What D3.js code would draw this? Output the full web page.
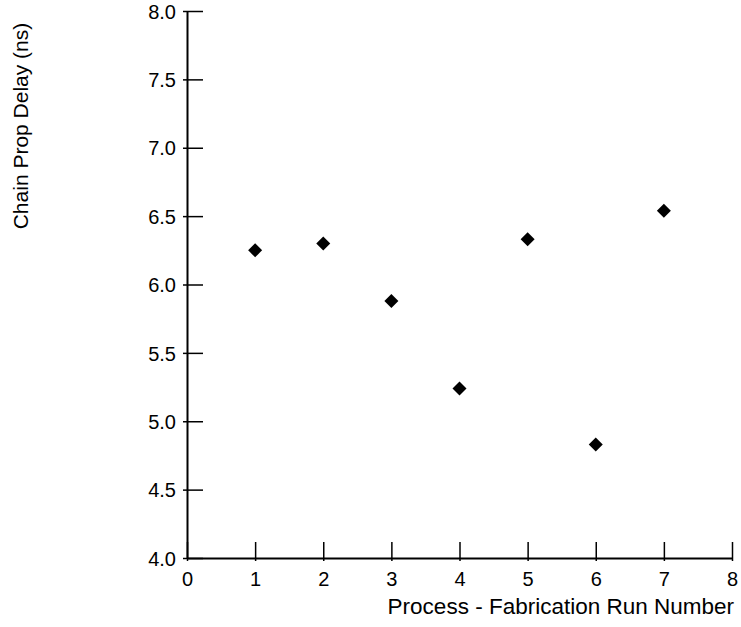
<!DOCTYPE html>
<html>
<head>
<meta charset="utf-8">
<script src="https://cdn.jsdelivr.net/npm/d3@7"></script>
<style>
  body { margin: 0; background: #fff; }
  svg { display: block; font-family: "Liberation Sans", Arial, sans-serif; }
</style>
</head>
<body>
<div id="chart"></div>
<script>
// run number vs measured chain propagation delay
const runs = [1, 2, 3, 4, 5, 6, 7];
const delays = [6.25, 6.30, 5.88, 5.24, 6.33, 4.83, 6.54];
const xTicks = [0, 1, 2, 3, 4, 5, 6, 7, 8];
const yTicks = [4.0, 4.5, 5.0, 5.5, 6.0, 6.5, 7.0, 7.5, 8.0];

const width = 741, height = 627;
const margin = { top: 11, right: 9, bottom: 69, left: 187 };

const svg = d3.select('#chart').append('svg')
  .attr('width', width).attr('height', height);

const x = d3.scaleLinear().domain([0, 8]).range([margin.left, width - margin.right]);
const y = d3.scaleLinear().domain([4, 8]).range([height - margin.bottom, margin.top]);

// y axis — ticks poke a little outside, mostly inside
const yAxis = svg.append('g').attr('transform', `translate(${margin.left},0)`)
  .call(d3.axisLeft(y).tickValues(yTicks).tickFormat(d3.format('.1f'))
    .tickSizeInner(-16).tickSizeOuter(0).tickPadding(0));
yAxis.select('.domain').attr('stroke', '#000').attr('stroke-width', 2);
yAxis.selectAll('.tick line').attr('x1', -4).attr('x2', 16)
  .attr('stroke', '#000').attr('stroke-width', 1.5);
yAxis.selectAll('.tick text').attr('x', -11).attr('dy', '0.36em')
  .attr('font-size', 20).attr('fill', '#000').attr('font-family', null);

const xAxis = svg.append('g').attr('transform', `translate(0,${y(4)})`)
  .call(d3.axisBottom(x).tickValues(xTicks).tickFormat(d3.format('d'))
    .tickSizeInner(0).tickSizeOuter(0));
xAxis.select('.domain').attr('stroke', '#000').attr('stroke-width', 2);
xAxis.selectAll('.tick line').attr('y1', 3).attr('y2', -16)
  .attr('stroke', '#000').attr('stroke-width', 1.5);
xAxis.selectAll('.tick text').attr('y', 28).attr('dy', 0)
  .attr('font-size', 20).attr('fill', '#000').attr('font-family', null);

// points drawn as diamonds (rotated squares)
const diamond = d3.symbol(d3.symbolSquare, 98);
svg.append('g').selectAll('path')
  .data(runs.map((r, i) => ({ run: r, delay: delays[i] })))
  .join('path')
  .attr('d', diamond)
  .attr('transform', (d) => `translate(${x(d.run)},${y(d.delay)}) rotate(45)`)
  .attr('fill', '#000');

svg.append('text')
  .attr('x', x(8) + 2).attr('y', 614)
  .attr('text-anchor', 'end').attr('font-size', 22.5).attr('fill', '#000')
  .text('Process - Fabrication Run Number');

svg.append('text')
  .attr('transform', 'translate(28,126) rotate(-90)')
  .attr('text-anchor', 'middle').attr('font-size', 21).attr('fill', '#000')
  .text('Chain Prop Delay (ns)');
</script>
</body>
</html>
